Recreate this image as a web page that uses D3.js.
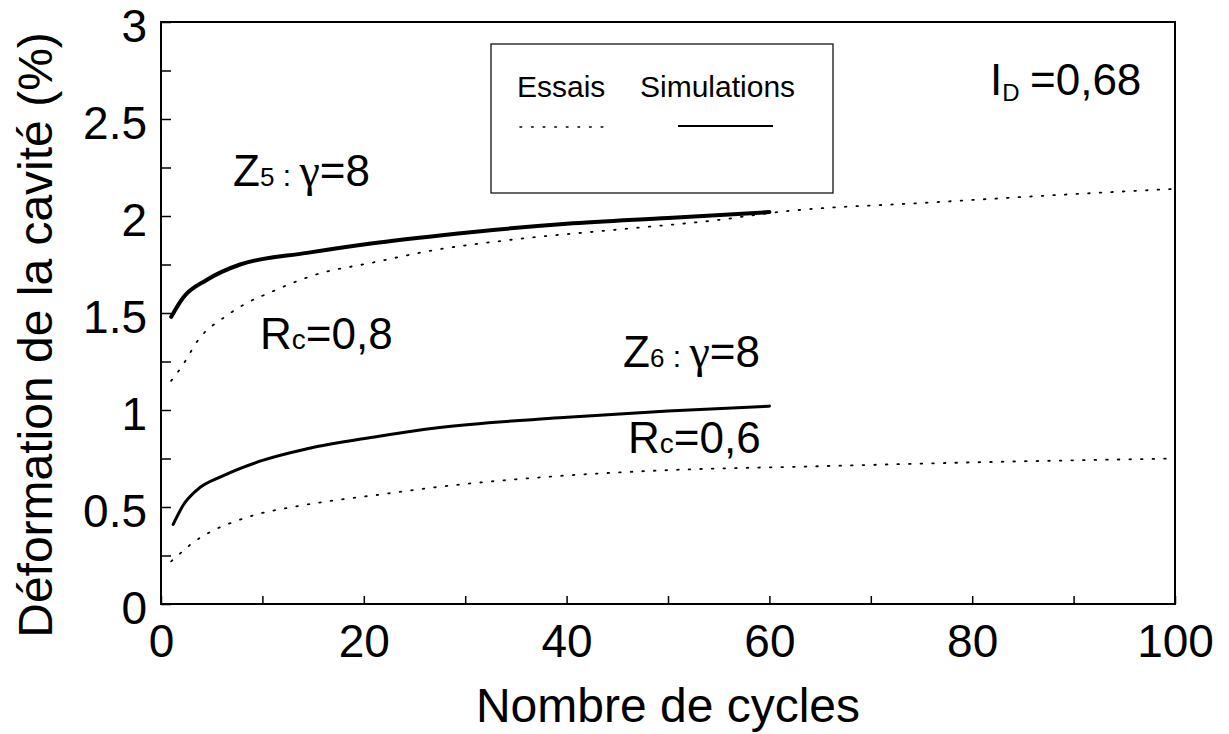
<!DOCTYPE html>
<html>
<head>
<meta charset="utf-8">
<script src="https://cdn.jsdelivr.net/npm/d3@7/dist/d3.min.js"></script>
<style>
  html, body { margin: 0; padding: 0; background: #fff; }
  svg { display: block; font-family: "Liberation Sans", Arial, Helvetica, sans-serif; }
</style>
</head>
<body>
<svg id="chart" width="1229" height="734"></svg>
<script>
// Cavity deformation (%) versus number of cycles, tests (dotted) vs simulations (solid)
const xTicks = [0, 20, 40, 60, 80, 100];
const xMinorTicks = [0, 10, 20, 30, 40, 50, 60, 70, 80, 90, 100];
const yTicks = [0, 0.5, 1, 1.5, 2, 2.5, 3];
const yMinorTicks = [0, 0.25, 0.5, 0.75, 1, 1.25, 1.5, 1.75, 2, 2.25, 2.5, 2.75, 3];

// Z5 (Rc = 0,8)
const simZ5Cycles = [1, 2.2, 4.5, 7.8, 14.4, 20.9, 27.5, 40, 50, 60];
const simZ5Def    = [1.48, 1.58, 1.67, 1.75, 1.81, 1.86, 1.90, 1.96, 1.99, 2.02];
const essZ5Cycles = [1, 2, 3.8, 6.3, 8.4, 10.5, 15.4, 20.9, 26.5, 35, 45, 55, 60.8, 76, 89, 100];
const essZ5Def    = [1.15, 1.22, 1.37, 1.48, 1.55, 1.60, 1.70, 1.76, 1.82, 1.88, 1.93, 1.98, 2.02, 2.07, 2.11, 2.14];

// Z6 (Rc = 0,6)
const simZ6Cycles = [1.2, 2.2, 3.6, 6.1, 10, 14.4, 20.9, 27.5, 39.3, 50, 60];
const simZ6Def    = [0.41, 0.51, 0.59, 0.66, 0.74, 0.80, 0.86, 0.91, 0.96, 0.995, 1.02];
const essZ6Cycles = [1, 2.1, 3, 4.8, 7, 9.3, 13, 16.5, 21, 26.8, 39.3, 50, 64.7, 80, 100];
const essZ6Def    = [0.22, 0.27, 0.31, 0.37, 0.42, 0.46, 0.50, 0.53, 0.56, 0.60, 0.66, 0.69, 0.71, 0.73, 0.75];

const svg = d3.select("#chart");
const x = d3.scaleLinear().domain([0, 100]).range([161, 1175]);
const y = d3.scaleLinear().domain([0, 3]).range([604, 22]);

const pts = (xs, ys) => xs.map((v, i) => [v, ys[i]]);
const line = d3.line().x(d => x(d[0])).y(d => y(d[1])).curve(d3.curveMonotoneX);

// frame
svg.append("rect")
  .attr("x", x(0)).attr("y", y(3))
  .attr("width", x(100) - x(0)).attr("height", y(0) - y(3))
  .attr("fill", "none").attr("stroke", "#000").attr("stroke-width", 2);

// inward ticks
const yAxisMinor = d3.axisLeft(y).tickValues(yMinorTicks).tickSize(-10).tickFormat("");
const xAxisMinor = d3.axisBottom(x).tickValues(xMinorTicks).tickSize(-8).tickFormat("");
svg.append("g").attr("transform", `translate(${x(0)},0)`).call(yAxisMinor)
  .call(g => g.select(".domain").remove())
  .selectAll("line").attr("stroke-width", 1.5);
svg.append("g").attr("transform", `translate(0,${y(0)})`).call(xAxisMinor)
  .call(g => g.select(".domain").remove())
  .selectAll("line").attr("stroke-width", 1.5);

// tick labels
const yAxis = d3.axisLeft(y).tickValues(yTicks).tickSize(0).tickPadding(14).tickFormat(d => String(d));
const xAxis = d3.axisBottom(x).tickValues(xTicks).tickSize(0).tickPadding(20).tickFormat(d => String(d));
svg.append("g").attr("transform", `translate(${x(0)},0)`).call(yAxis)
  .call(g => g.select(".domain").remove())
  .selectAll("text").attr("font-size", 46).attr("dy", "0.42em")
  .attr("font-family", "Liberation Sans, Arial, sans-serif").attr("fill", "#000");
svg.append("g").attr("transform", `translate(0,${y(0)})`).call(xAxis)
  .call(g => g.select(".domain").remove())
  .selectAll("text").attr("font-size", 46).attr("font-family", "Liberation Sans, Arial, sans-serif").attr("fill", "#000");

// axis titles
svg.append("text")
  .attr("transform", "translate(52,335) rotate(-90)")
  .attr("text-anchor", "middle").attr("font-size", 48)
  .text("Déformation de la cavité (%)");
svg.append("text")
  .attr("x", 668).attr("y", 722)
  .attr("text-anchor", "middle").attr("font-size", 48)
  .text("Nombre de cycles");

// series
const series = [
  { data: pts(essZ5Cycles, essZ5Def), width: 1.8, dash: "1.6,10" },
  { data: pts(essZ6Cycles, essZ6Def), width: 1.8, dash: "1.6,10" },
  { data: pts(simZ5Cycles, simZ5Def), width: 4, dash: null },
  { data: pts(simZ6Cycles, simZ6Def), width: 3, dash: null }
];
series.forEach(s => {
  svg.append("path")
    .attr("d", line(s.data))
    .attr("fill", "none").attr("stroke", "#000")
    .attr("stroke-width", s.width)
    .attr("stroke-linecap", "round")
    .attr("stroke-dasharray", s.dash);
});

// legend
svg.append("rect")
  .attr("x", 491).attr("y", 44).attr("width", 342).attr("height", 149)
  .attr("fill", "none").attr("stroke", "#000").attr("stroke-width", 1.2);
svg.append("text").attr("x", 517).attr("y", 97).attr("font-size", 30).text("Essais");
svg.append("text").attr("x", 640).attr("y", 97).attr("font-size", 30).text("Simulations");
svg.append("line").attr("x1", 520).attr("x2", 612).attr("y1", 127).attr("y2", 127)
  .attr("stroke", "#000").attr("stroke-width", 1.6).attr("stroke-dasharray", "1.6,10").attr("stroke-linecap", "round");
svg.append("line").attr("x1", 678).attr("x2", 773).attr("y1", 126).attr("y2", 126)
  .attr("stroke", "#000").attr("stroke-width", 2);

// annotations
function zoneLabel(px, py, zone, sub) {
  const t = svg.append("text").attr("x", px).attr("y", py).attr("font-size", 44);
  t.append("tspan").text(zone);
  t.append("tspan").attr("font-size", 26).text(sub);
  t.append("tspan").attr("font-size", 30).text(" : ");
  t.append("tspan").attr("font-family", "Liberation Serif, serif").attr("font-size", 46).text("γ");
  t.append("tspan").text("=8");
}
zoneLabel(233, 186, "Z", "5");
zoneLabel(623, 367, "Z", "6");

function rcLabel(px, py, val) {
  const t = svg.append("text").attr("x", px).attr("y", py).attr("font-size", 44);
  t.append("tspan").text("R");
  t.append("tspan").attr("font-size", 28).text("c");
  t.append("tspan").text("=" + val);
}
rcLabel(260, 349, "0,8");
rcLabel(628, 453, "0,6");

const id = svg.append("text").attr("x", 990).attr("y", 95).attr("font-size", 44);
id.append("tspan").text("I");
id.append("tspan").attr("font-size", 24).attr("dy", 6).text("D");
id.append("tspan").attr("x", 1030).attr("dy", -6).text("=0,68");
</script>
</body>
</html>
